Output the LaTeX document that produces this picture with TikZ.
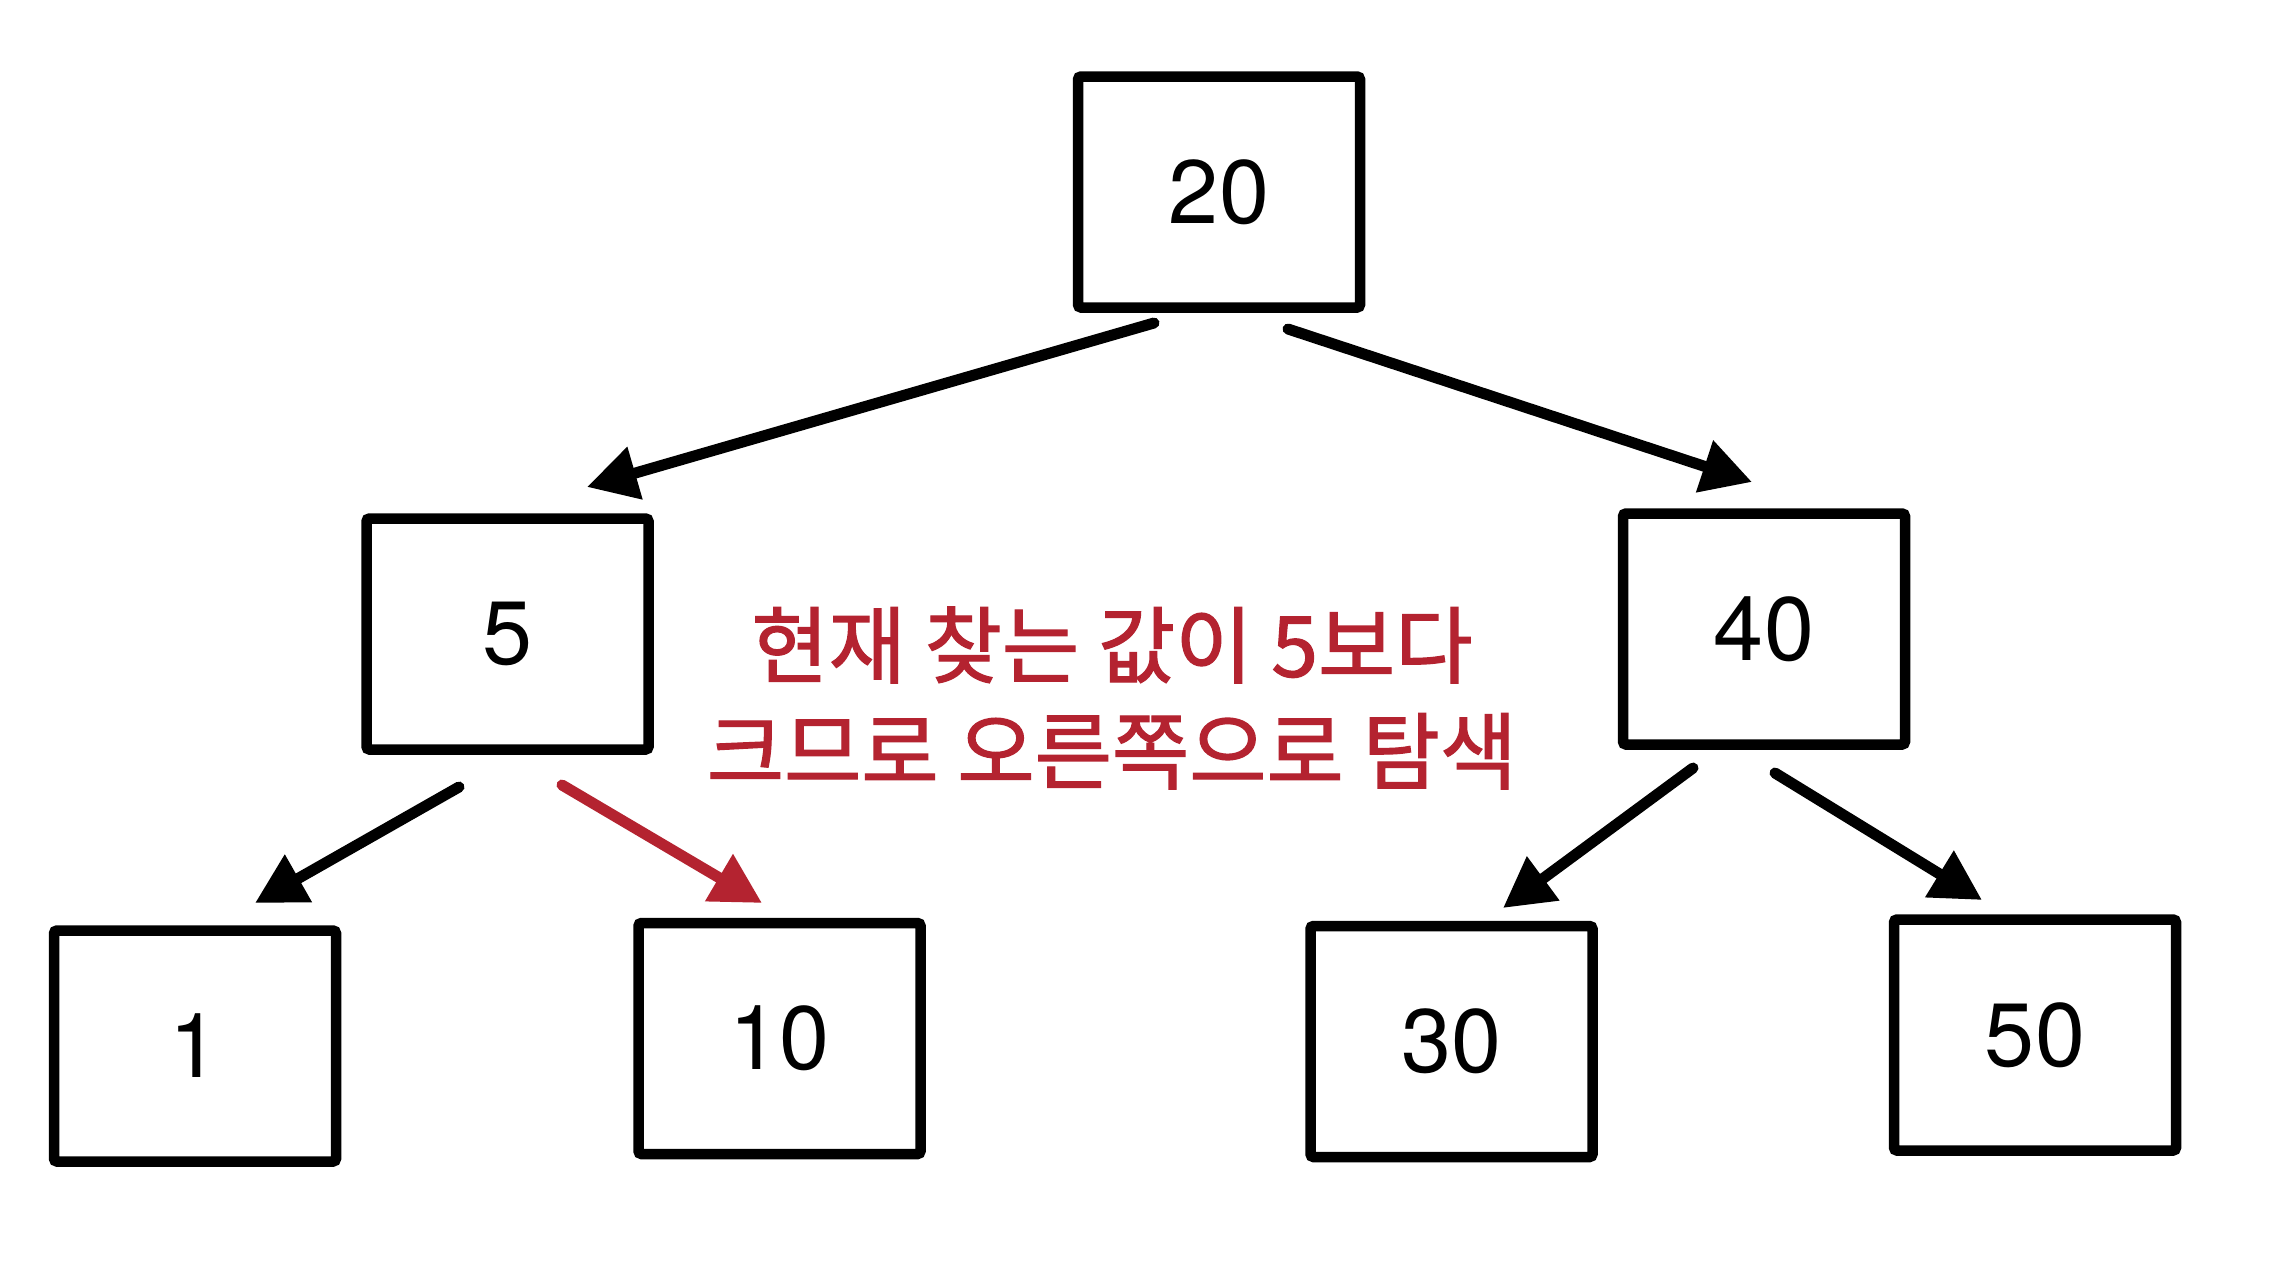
\documentclass[tikz,border=0pt]{standalone}
\usepackage{fontspec}
\setmainfont{TeX Gyre Heros}
\newfontfamily\kr[FakeBold=1.5]{Noto Sans CJK KR}
\usetikzlibrary{arrows.meta}
\definecolor{searchred}{RGB}{180,35,48}
\begin{document}
\begin{tikzpicture}[x=1pt,y=-1pt,
  box/.style={draw=black, line width=10.5pt, rounded corners=3pt, minimum width=282pt, minimum height=231pt, inner sep=0pt, font=\fontsize{90}{90}\selectfont},
  edge/.style={line width=11pt, line cap=round, -{Triangle[length=50pt,width=52pt]}},
]
\useasboundingbox[fill=white] (0,0) rectangle (2284,1282);
\node[box] (n20) at (1219,192) {20};
\node[box] (n5) at (507.5,634) {5};
\node[box] (n40) at (1764,629) {40};
\node[box] (n1) at (195,1046) {1};
\node[box] (n10) at (779.5,1038.5) {10};
\node[box] (n30) at (1451.5,1041.5) {30};
\node[box] (n50) at (2035,1035) {50};

\coordinate (a1s) at (1154,323); \coordinate (a1e) at (587,487);
\coordinate (a2s) at (1288,329); \coordinate (a2e) at (1752,482);
\coordinate (a3s) at (459,787);  \coordinate (a3e) at (255,903);
\coordinate (a4s) at (562,785);  \coordinate (a4e) at (762,903);
\coordinate (a5s) at (1693,768); \coordinate (a5e) at (1503,908);
\coordinate (a6s) at (1775,773); \coordinate (a6e) at (1982,900);

\draw[edge] (a1s) -- (a1e);
\draw[edge] (a2s) -- (a2e);
\draw[edge] (a3s) -- (a3e);
\draw[edge, draw=searchred, fill=searchred] (a4s) -- (a4e);
\draw[edge] (a5s) -- (a5e);
\draw[edge] (a6s) -- (a6e);

\node[text=searchred, align=center, inner sep=0pt, font=\kr\fontsize{84}{106}\selectfont] (msg) at (1112,698) {현재 찾는 값이 5보다\\크므로 오른쪽으로 탐색};
\end{tikzpicture}
\end{document}
